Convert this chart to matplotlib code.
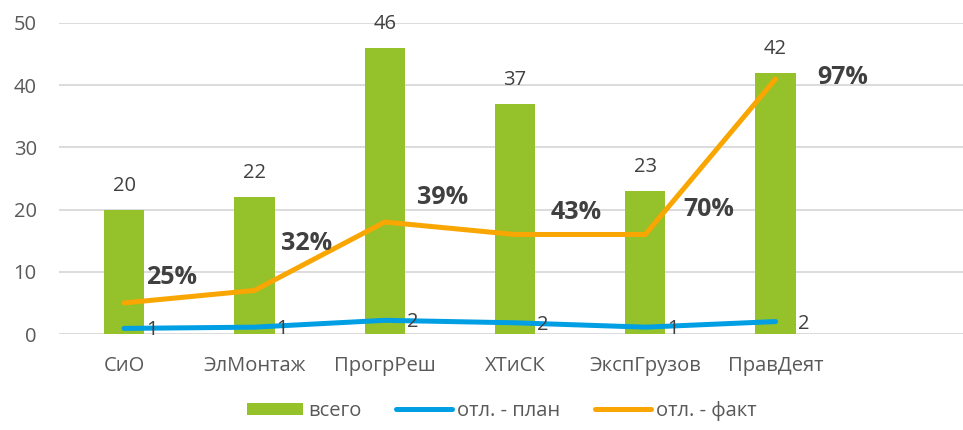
import matplotlib
matplotlib.use("Agg")
import matplotlib.pyplot as plt
from matplotlib.patches import Patch
from matplotlib.lines import Line2D

categories = ["СиО", "ЭлМонтаж", "ПрогрРеш", "ХТиСК", "ЭкспГрузов", "ПравДеят"]
total = [20, 22, 46, 37, 23, 42]
plan_dev = [0.9, 1.1, 2.2, 1.8, 1.1, 2.0]
fact_dev = [5, 7, 18, 16, 16, 41]
fact_pct = ["25%", "32%", "39%", "43%", "70%", "97%"]

# label offsets (pixels) for the percent labels, hand placed like in the source
pct_offsets = [(47, 25), (52, 47), (58, 25), (61, 22), (64, 25), (67, 1)]

green = "#95C12B"
blue = "#009FE3"
orange = "#F9A602"
grid_c = "#D9D9D9"
txt_c = "#404040"
tick_c = "#595959"

plt.rcParams["font.family"] = ["Open Sans", "DejaVu Sans"]

fig = plt.figure(figsize=(9.63, 4.30), dpi=100)
ax = fig.add_axes([59 / 963, 96 / 430, 912 / 963, 311 / 430])

x = list(range(len(categories)))
ax.bar(x, total, width=0.31, color=green, zorder=2)
ax.plot(x, plan_dev, color=blue, lw=3.6, solid_capstyle="round", zorder=3)
ax.plot(x, fact_dev, color=orange, lw=3.6, solid_capstyle="round", zorder=3)

for i, v in enumerate(total):
    ax.annotate(str(v), (i, v), xytext=(0, 24), textcoords="offset pixels",
                ha="center", va="center", fontsize=14.5, color=txt_c)

for i, v in enumerate(plan_dev):
    ax.annotate(f"{v:.0f}", (i, v), xytext=(22, -2), textcoords="offset pixels",
                ha="left", va="center", fontsize=14.5, color=txt_c, zorder=4)

for i, v in enumerate(fact_dev):
    dx, dy = pct_offsets[i]
    ax.annotate(fact_pct[i], (i, v), xytext=(dx, dy), textcoords="offset pixels",
                ha="center", va="center", fontsize=18, fontweight="bold",
                color=txt_c, zorder=4)

ax.set_xlim(-0.5, 6.5)
ax.set_ylim(0, 50)
ax.set_yticks(range(0, 51, 10))
ax.set_xticks(x)
ax.set_xticklabels(categories)
ax.tick_params(axis="both", length=0, labelsize=14.5, colors=tick_c)
ax.tick_params(axis="y", pad=16)
ax.tick_params(axis="x", pad=16)
ax.grid(axis="y", color=grid_c, lw=1.3, zorder=0)
ax.set_axisbelow(True)
for s in ax.spines.values():
    s.set_visible(False)

handles = [
    Patch(facecolor=green, edgecolor="none"),
    Line2D([0], [0], color=blue, lw=3.6, solid_capstyle="round"),
    Line2D([0], [0], color=orange, lw=3.6, solid_capstyle="round"),
]
fig.legend(handles, ["всего", "отл. - план", "отл. - факт"], loc="center",
           bbox_to_anchor=(0.521, 19 / 430), ncol=3, frameon=False, fontsize=14.5,
           handlelength=2.8, handleheight=0.6, handletextpad=0.25,
           columnspacing=1.7, labelcolor=tick_c)

fig.savefig("out.png", dpi=100)
